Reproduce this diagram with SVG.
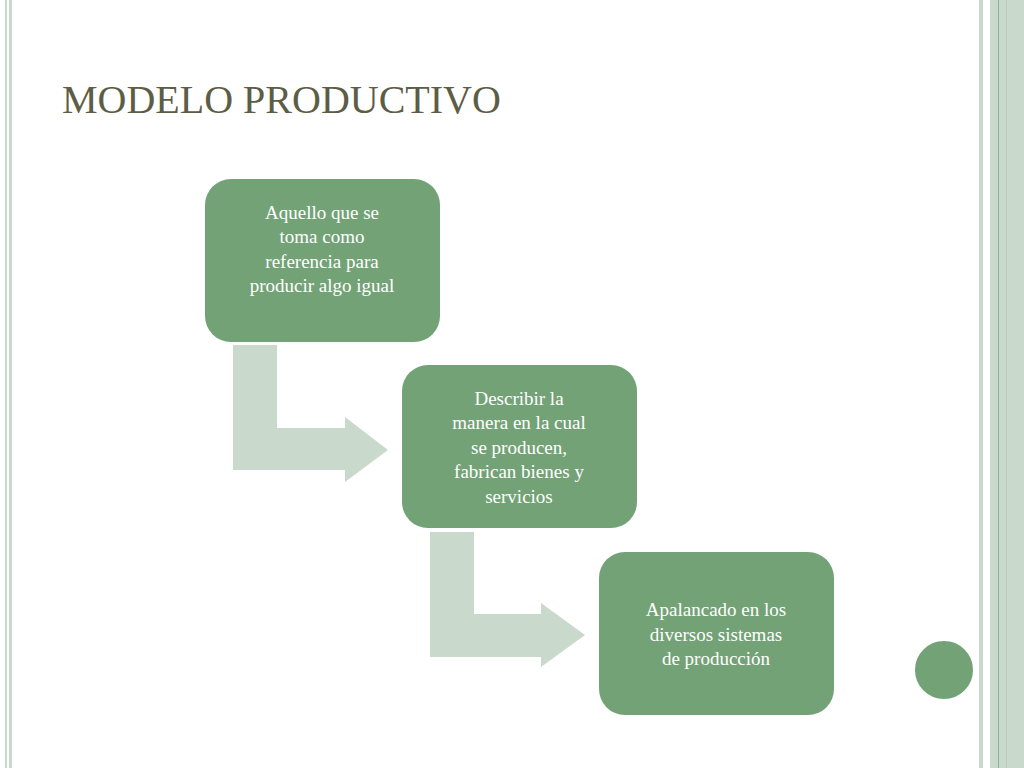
<svg xmlns="http://www.w3.org/2000/svg" width="1024" height="768" viewBox="0 0 1024 768">
<style>
.box{fill:#72a276}
.t{font-family:"Liberation Serif",serif;font-size:19px;fill:#fff;text-anchor:middle}
.arr{fill:#c9d9cc}
</style>
<rect width="1024" height="768" fill="#fff"/>
<rect x="5" y="0" width="2" height="768" fill="#c9d9cc"/>
<rect x="9" y="0" width="3" height="768" fill="#c9d9cc"/>
<rect x="979" y="0" width="4" height="768" fill="#c9d9cc"/>
<rect x="990" y="0" width="34" height="768" fill="#c9d9cc"/>
<rect x="998" y="0" width="1" height="768" fill="#8fb495"/>
<rect x="1006" y="0" width="1" height="768" fill="#b8cdbb"/>
<text x="62" y="113" font-family="Liberation Serif,serif" font-size="40" fill="#5d5d45">MODELO PRODUCTIVO</text>
<g id="connectors">
<path class="arr" d="M233 345H277V428H345V417L388 450L345 482V470H233Z"/>
<path class="arr" d="M430 532H474V614H541V603L585 635L541 667V657H430Z"/>
</g>
<g id="n1"><rect class="box" x="205" y="179" width="235" height="163" rx="26"/>
<text class="t"><tspan x="322" y="219">Aquello que se</tspan><tspan x="322" y="243">toma como</tspan><tspan x="322" y="268">referencia para</tspan><tspan x="322" y="292">producir algo igual</tspan></text></g>
<g id="n2"><rect class="box" x="402" y="365" width="235" height="163" rx="26"/>
<text class="t"><tspan x="519" y="405">Describir la</tspan><tspan x="519" y="429">manera en la cual</tspan><tspan x="519" y="454">se producen,</tspan><tspan x="519" y="478">fabrican bienes y</tspan><tspan x="519" y="503">servicios</tspan></text></g>
<g id="n3"><rect class="box" x="599" y="552" width="235" height="163" rx="26"/>
<text class="t"><tspan x="716" y="616">Apalancado en los</tspan><tspan x="716" y="641">diversos sistemas</tspan><tspan x="716" y="665">de producción</tspan></text></g>
<circle cx="944" cy="670" r="30" fill="#72a276" stroke="#fff" stroke-width="2"/>
</svg>
